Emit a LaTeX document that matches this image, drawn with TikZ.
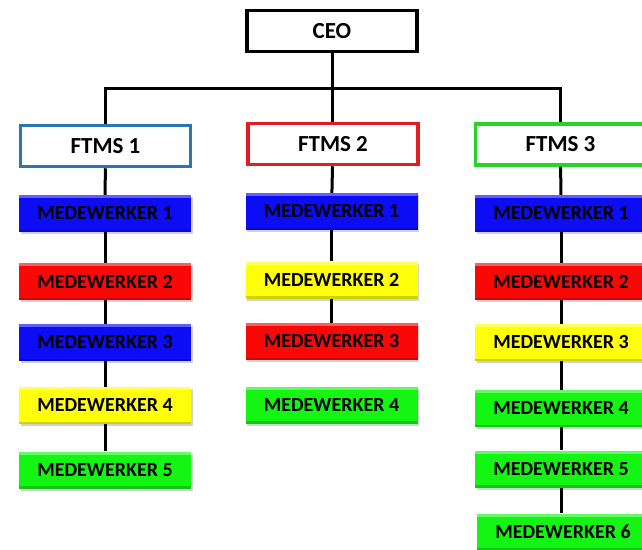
\documentclass[tikz,border=0pt]{standalone}
\usepackage{fontspec}
\setmainfont{Carlito}
\usetikzlibrary{shadows}

\definecolor{mwblue}{RGB}{12,12,245}
\definecolor{mwred}{RGB}{250,8,8}
\definecolor{mwyellow}{RGB}{255,255,10}
\definecolor{mwgreen}{RGB}{20,245,20}
\definecolor{rimblue}{RGB}{46,117,182}
\definecolor{rimred}{RGB}{226,28,36}
\definecolor{rimgreen}{RGB}{40,210,40}

\tikzset{
  headbox/.style={draw, line width=3.5pt, fill=white, minimum width=170pt,
    minimum height=41pt, inner sep=0pt,
    font=\fontsize{23}{27}\selectfont\bfseries},
  staffbox/.style={fill=#1, minimum width=172pt, minimum height=37pt,
    inner sep=0pt, font=\fontsize{20}{24}\selectfont\bfseries,
    drop shadow={shadow xshift=1.5pt, shadow yshift=-2pt, opacity=0.35},
    path picture={
      \fill[white, opacity=0.35] (path picture bounding box.north west)
        rectangle ([yshift=-3pt]path picture bounding box.north east);
      \fill[black, opacity=0.18] (path picture bounding box.south west)
        rectangle ([yshift=2.5pt]path picture bounding box.south east);
    }},
  link/.style={draw=black, line width=3pt}
}

\begin{document}
\begin{tikzpicture}[x=1pt, y=-1pt]
\useasboundingbox (0,0) rectangle (642,549);
\clip (0,0) rectangle (642,549);
\fill[white] (0,0) rectangle (642,549);

% top level
\node[headbox] (ceo) at (332,31) {CEO};
\node[headbox, draw=rimblue]  (f1) at (105.5,146) {FTMS 1};
\node[headbox, draw=rimred]   (f2) at (333,144) {FTMS 2};
\node[headbox, draw=rimgreen] (f3) at (560.5,144.5) {FTMS 3};

% column 1
\node[staffbox=mwblue]   (a1) at (105,213.5) {MEDEWERKER 1};
\node[staffbox=mwred]    (a2) at (105,281.5) {MEDEWERKER 2};
\node[staffbox=mwblue]   (a3) at (105,342.5) {MEDEWERKER 3};
\node[staffbox=mwyellow] (a4) at (105,405.5) {MEDEWERKER 4};
\node[staffbox=mwgreen]  (a5) at (105,470)   {MEDEWERKER 5};

% column 2
\node[staffbox=mwblue]   (b1) at (331.5,211.5) {MEDEWERKER 1};
\node[staffbox=mwyellow] (b2) at (331.5,280)   {MEDEWERKER 2};
\node[staffbox=mwred]    (b3) at (331.5,341.5) {MEDEWERKER 3};
\node[staffbox=mwgreen]  (b4) at (331.5,405)   {MEDEWERKER 4};

% column 3
\node[staffbox=mwblue]   (c1) at (561,213.5) {MEDEWERKER 1};
\node[staffbox=mwred]    (c2) at (561,281.5) {MEDEWERKER 2};
\node[staffbox=mwyellow] (c3) at (561,342.5) {MEDEWERKER 3};
\node[staffbox=mwgreen]  (c4) at (561,408.5) {MEDEWERKER 4};
\node[staffbox=mwgreen]  (c5) at (561,469)   {MEDEWERKER 5};
\node[staffbox=mwgreen]  (c6) at (563,532)   {MEDEWERKER 6};

% connectors
\coordinate (bus) at (332,88);
\draw[link] (ceo.south) -- (ceo.south |- f2.north);
\draw[link] (f1.north) |- (bus) -| (f3.north);

\draw[link] (f1) -- (a1);
\draw[link] (a1) -- (a2);
\draw[link] (a2) -- (a3);
\draw[link] (a3) -- (a4);
\draw[link] (a4) -- (a5);

\draw[link] (f2) -- (b1);
\draw[link] (b1) -- (b2);
\draw[link] (b2) -- (b3);

\draw[link] (f3) -- (c1);
\draw[link] (c1) -- (c2);
\draw[link] (c2) -- (c3);
\draw[link] (c3) -- (c4);
\draw[link] (c4) -- (c5);
\draw[link] (c5.south) -- (c5.south |- c6.north);
\end{tikzpicture}
\end{document}
